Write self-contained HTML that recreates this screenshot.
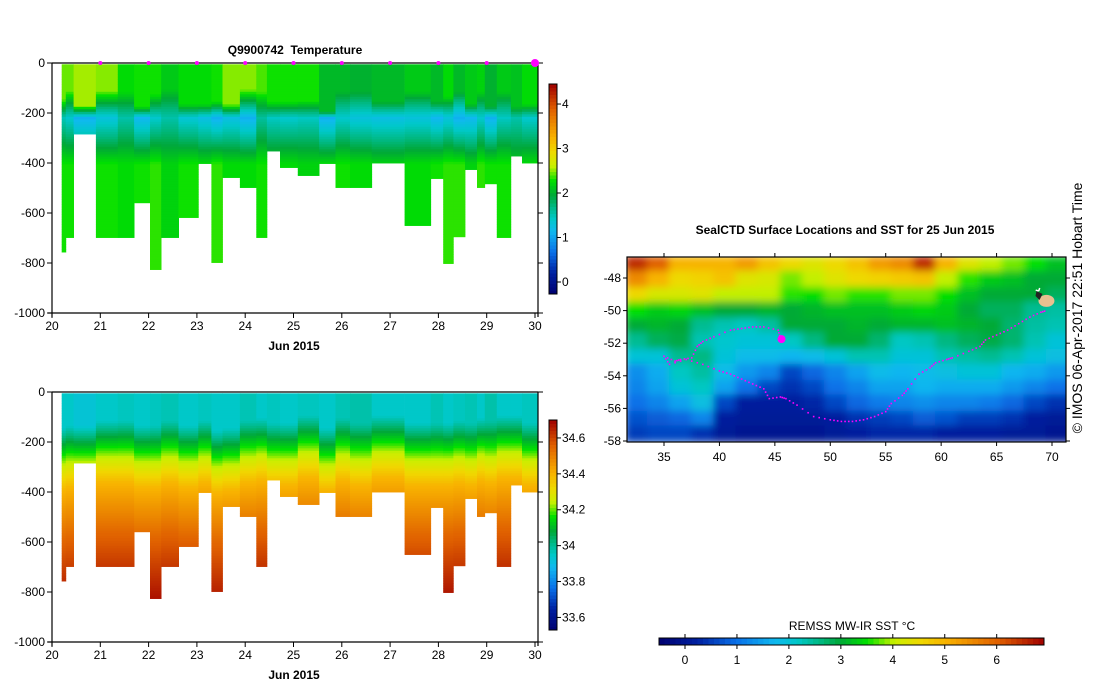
<!DOCTYPE html>
<html><head><meta charset="utf-8"><style>
body{margin:0;background:#fff;width:1099px;height:700px;overflow:hidden}
svg{display:block;font-family:"Liberation Sans",sans-serif}
</style></head><body>
<svg id="root" width="1099" height="700" xmlns="http://www.w3.org/2000/svg">
<g id="sec1"></g>
<g id="sec2"></g>
<g id="map"></g>
<text x="295" y="54" font-size="12" font-weight="bold" text-anchor="middle" xml:space="preserve">Q9900742  Temperature</text>
<text x="294" y="350" font-size="12" font-weight="bold" text-anchor="middle">Jun 2015</text>
<text x="294" y="679" font-size="12" font-weight="bold" text-anchor="middle">Jun 2015</text>
<text x="845" y="234" font-size="12" font-weight="bold" text-anchor="middle">SealCTD Surface Locations and SST for 25 Jun 2015</text>
<text x="852" y="630" font-size="12" text-anchor="middle">REMSS MW-IR SST °C</text>
<text transform="translate(1082,308) rotate(-90)" font-size="14" text-anchor="middle">© IMOS 06-Apr-2017 22:51 Hobart Time</text>
</svg>
<script>
// profile column edges (days after 20 Jun) and bottoms
const colEdges=[0.20,0.285,0.447,0.908,1.363,1.70,2.03,2.26,2.62,3.03,3.30,3.53,3.89,4.23,4.45,4.72,5.09,5.53,5.87,6.17,6.62,7.30,7.84,8.10,8.31,8.55,8.80,8.96,9.21,9.50,9.73,10.05];
const colDepth=[756,698,284,698,698,559,826,698,618,402,798,458,498,698,352,418,450,402,498,498,400,650,462,802,695,426,498,483,698,372,400];
const tSurf=[2.45,2.45,2.55,2.5,2.25,2.3,2.3,2.15,2.25,2.25,2.3,2.5,2.5,2.4,2.3,2.3,2.3,2.05,2.05,2.0,2.05,2.15,2.05,2.25,2.05,2.15,2.2,2.0,2.15,2.1,2.25];
const tMin=[1.5,1.4,1.1,1.3,1.55,1.15,1.4,1.55,1.35,1.25,1.1,1.25,1.1,1.6,1.45,1.4,1.45,1.1,1.4,1.3,1.25,1.3,1.15,1.3,1.1,1.15,1.4,1.1,1.45,1.55,1.4];
const tDeep=[2.3,2.3,2.2,2.3,2.25,2.3,2.35,2.2,2.3,2.25,2.35,2.25,2.25,2.3,2.2,2.25,2.2,2.25,2.3,2.25,2.2,2.25,2.3,2.35,2.35,2.2,2.35,2.3,2.3,2.15,2.25];
const mixDepth=[140,105,165,105,110,170,120,100,160,160,150,160,100,110,150,150,145,190,110,110,150,110,150,130,110,160,110,170,110,170,160];
const haloDepth=[290,280,280,260,260,280,280,260,280,260,300,290,260,250,270,270,240,290,250,270,240,270,270,270,260,270,250,260,240,240,270];
const surfSal=[33.95,33.95,33.93,33.95,33.96,33.95,33.96,33.97,33.95,33.96,33.95,33.95,33.97,33.95,33.96,33.95,33.96,33.95,33.97,33.98,33.95,33.95,33.97,33.95,33.96,33.97,33.95,33.98,33.95,33.95,33.96];
const dayTicks=[20,21,22,23,24,25,26,27,28,29,30];
const depthTicks=[0,-200,-400,-600,-800,-1000];
const tempCbTicks=[0,1,2,3,4];
const salCbTicks=[33.6,33.8,34,34.2,34.4,34.6];
// SST map grid: lon centres 32.5..74.5 step 2, lat rows -47.2..-57.6
const sstLon=[32.5,34.5,36.5,38.5,40.5,42.5,44.5,46.5,48.5,50.5,52.5,54.5,56.5,58.5,60.5,62.5,64.5,66.5,68.5,70.5,72.5,74.5];
const sstLat=[-47.2,-48.1,-49.1,-50.0,-51.0,-51.9,-52.9,-53.8,-54.8,-55.7,-56.7,-57.6];
const sstRows=[
[6.5,6,5,5,5,5.3,4.8,4.5,4.3,4.5,4.8,5.3,5.5,6.5,5,4.3,4,3.8,3.5,3.2,3.3,3.3],
[5.5,5,4.5,4.6,4.8,4.3,4.2,3.8,4,4.3,4.5,4.6,4.7,4.8,4,3.6,3.3,3.2,3,3,3,3],
[4.5,4.2,4.2,4.3,4,4,4,3.6,3.5,3.8,3.6,3.6,3.8,3.8,3.5,3.2,3,3,3,2.8,2.8,2.8],
[3.5,3.3,3.4,3.2,3,3,3.1,3,3.1,3.2,3.2,3.2,3.3,3.4,3.3,3,2.8,2.8,2.5,2.4,2.4,2.4],
[3,3.1,3,2.5,2.3,2.2,2.4,3,3,3,3.1,3,3.1,3.1,3.2,3.1,3,2.7,2.4,2.3,2.3,2.3],
[2.5,2.8,2.9,2.3,2.1,2,2,2.2,2.6,3,3,2.7,2.2,2.3,2.6,2.8,2.9,2.7,2.3,2,2,2],
[2,2,2.5,2.6,2,1.8,1.8,1.7,1.8,2,2.3,2.3,2,2,2.3,2.4,2.5,2.3,2,1.9,1.8,1.8],
[1.3,1.6,2.2,2.4,1.8,1.4,1.2,0.6,0.9,1.2,1.5,1.8,1.7,1.8,1.9,2,2,1.7,1.6,1.4,1.2,1.2],
[1.2,1.5,2,2.2,1.5,1,0.6,0.4,0.6,1,1.2,1.5,1.5,1.7,1.6,1.6,1.6,1.4,1.2,1,0.9,0.9],
[1,1.2,1.5,1.9,0.6,0.2,0.2,0.2,0.3,0.6,0.9,1.1,1.2,1.3,1.2,1.2,1.1,0.9,0.6,0.4,0.3,0.3],
[0.7,0.8,0.9,1.2,0.2,0.1,0.1,0.1,0.1,0.2,0.4,0.5,0.6,0.8,0.7,0.5,0.5,0.4,0.2,0.1,0.1,0.1],
[0.5,0.6,0.6,0.4,0.1,0,0,0,0,0.1,0.2,0.3,0.3,0.3,0.2,0.2,0.2,0.1,0.1,0,0,0]];
const trackLon=[45.5,45.3,44,43,42,41,39.5,38.5,38,37.5,36.5,36,35,35.5,37,38.5,40,41,42,43,44,44.5,45.5,46,47,48.5,50,51,52,53,54,55,55.5,56.5,57,58,59,59.5,60.5,61,62.5,63.5,64,65,66,67,68,69,69.5];
const trackLat=[-51.7,-51.2,-51.0,-51.0,-51.1,-51.2,-51.6,-51.9,-52.2,-52.9,-53.0,-53.1,-52.8,-53.3,-53.0,-53.3,-53.7,-53.9,-54.2,-54.5,-54.8,-55.4,-55.3,-55.4,-55.8,-56.5,-56.7,-56.8,-56.8,-56.7,-56.5,-56.2,-55.7,-55.2,-54.8,-53.9,-53.5,-53.2,-53.0,-52.9,-52.5,-52.2,-51.8,-51.5,-51.2,-50.8,-50.4,-50.1,-50.0];
const mapLonTicks=[35,40,45,50,55,60,65,70];
const mapLatTicks=[-48,-50,-52,-54,-56,-58];
const sstCbTicks=[0,1,2,3,4,5,6];

const NS='http://www.w3.org/2000/svg';
const stops=[[0,'#000070'],[0.1,'#0020a0'],[0.2,'#0a70e8'],[0.3,'#10b8f0'],[0.36,'#00c8c8'],[0.42,'#00b880'],[0.47,'#00a838'],[0.54,'#00e000'],[0.61,'#c8f000'],[0.68,'#f0d800'],[0.75,'#f8b000'],[0.88,'#e06000'],[1,'#a00000']];
function hx(c){return [1,3,5].map(i=>parseInt(c.substr(i,2),16));}
function cmap(t){t=Math.max(0,Math.min(1,t));for(let i=1;i<stops.length;i++){if(t<=stops[i][0]){const a=stops[i-1],b=stops[i];const f=(t-a[0])/(b[0]-a[0]);const A=hx(a[1]),B=hx(b[1]);return 'rgb('+A.map((v,k)=>Math.round(v+(B[k]-v)*f)).join(',')+')';}}return stops[stops.length-1][1];}
function mk(p,tag,at){const e=document.createElementNS(NS,tag);for(const k in at)e.setAttribute(k,at[k]);p.appendChild(e);return e;}
function txt(p,x,y,s,anchor,size){const e=mk(p,'text',{x:x,y:y,'font-size':size||12,'text-anchor':anchor||'middle'});e.textContent=s;return e;}

function tempAt(i,z){const m=mixDepth[i];if(z<m)return tSurf[i];if(z<215)return tSurf[i]+(tMin[i]-tSurf[i])*(z-m)/(215-m);if(z<400)return tMin[i]+(tDeep[i]-tMin[i])*(z-215)/185;return tDeep[i];}
function salAt(i,z){const h=haloDepth[i];const h1=h-150;if(z<h1)return surfSal[i];if(z<h)return surfSal[i]+(34.25-surfSal[i])*(z-h1)/150;if(z<h+100)return 34.25+0.15*(z-h)/100;if(z<h+300)return 34.4+0.15*(z-h-100)/200;return Math.min(34.68,34.55+0.13*(z-h-300)/250);}

function section(g,top,fn,tmin,tmax,cbTicks,cbTop,cbBot,cbMin,cbMax,fmt,markers){
  const L=52,R=538,B=top+250;const X0=52,X1=535;
  const xs=d=>X0+(d-20)*(X1-X0)/10, ys=z=>top+z*0.25;
  for(let i=0;i<colDepth.length;i++){
    const x0=xs(20+colEdges[i]),x1=xs(20+colEdges[i+1]);
    for(let z=5;z<colDepth[i];z+=10){
      const r=mk(g,'rect',{x:x0.toFixed(1),y:ys(z).toFixed(1),width:(x1-x0+0.4).toFixed(1),height:Math.min(10,colDepth[i]-z)*0.25+0.4,fill:cmap((fn(i,z)-tmin)/(tmax-tmin))});
      
      
    }
  }
  mk(g,'path',{d:`M${L},${top}H${R}M${L},${top}V${B+4}M${L-4},${B}H${R}M${R},${top}V${B+4}`,stroke:'#000','stroke-width':1.2,fill:'none'});
  dayTicks.forEach(d=>{mk(g,'line',{x1:xs(d),x2:xs(d),y1:B,y2:B+5,stroke:'#000'});const t=txt(g,xs(d),B+17,String(d));});
  depthTicks.forEach(v=>{const y=ys(-v);mk(g,'line',{x1:L-5,x2:L,y1:y,y2:y,stroke:'#000'});mk(g,'line',{x1:R,x2:R+5,y1:y,y2:y,stroke:'#000'});const t=txt(g,L-7,y+4,String(v),'end');});
  if(markers){for(let d=21;d<=29;d++){const c=mk(g,'circle',{cx:xs(d),cy:top,r:2,fill:'#ff00ff'});}const c=mk(g,'circle',{cx:xs(30),cy:top,r:4,fill:'#ff00ff'});}
  const cb=mk(g,'g',{});
  const n=60;for(let k=0;k<n;k++){const y=cbBot-(k+1)*(cbBot-cbTop)/n;mk(cb,'rect',{x:549,y:y.toFixed(1),width:8,height:((cbBot-cbTop)/n+0.5).toFixed(1),fill:cmap((k+0.5)/n)});}
  mk(cb,'rect',{x:549,y:cbTop,width:8,height:cbBot-cbTop,fill:'none',stroke:'#000'});
  cbTicks.forEach(v=>{const y=cbBot-(v-cbMin)/(cbMax-cbMin)*(cbBot-cbTop);mk(cb,'line',{x1:557,x2:561,y1:y,y2:y,stroke:'#000'});const t=txt(cb,562,y+4,fmt(v),'start');});
}
section(document.getElementById('sec1'),63,tempAt,-0.27,4.45,tempCbTicks,84,294,-0.27,4.45,v=>String(v),true);
section(document.getElementById('sec2'),392,salAt,33.53,34.7,salCbTicks,420,630,33.53,34.7,v=>String(+v.toFixed(1)),false);

(function(){
  const g=document.getElementById('map');
  const ML=627,MR=1066,MT=257,MB=442;
  const xs=lon=>664+(lon-35)*11.086, ys=lat=>278+(-48-lat)*16.3;
  const defs=mk(g,'defs',{});const f=mk(defs,'filter',{id:'bl',x:'-5%',y:'-5%',width:'110%',height:'110%'});mk(f,'feGaussianBlur',{stdDeviation:4});
  const cp=mk(defs,'clipPath',{id:'mc'});mk(cp,'rect',{x:ML,y:MT,width:MR-ML,height:MB-MT});
  const cg=mk(g,'g',{'clip-path':'url(#mc)'});
  const hg=mk(cg,'g',{filter:'url(#bl)'});
  for(let r=0;r<sstLat.length;r++)for(let c=0;c<sstLon.length;c++){
    const x=xs(sstLon[c]-1.05),y=ys(sstLat[r]+0.55);
    const e=mk(hg,'rect',{x:x.toFixed(1),y:y.toFixed(1),width:24,height:17,fill:cmap((sstRows[r][c]+0.5)/7.4)});
    
    
  }
  for(let k=0;k<trackLon.length-1;k++)for(let s=0;s<3;s++){const lo=trackLon[k]+(trackLon[k+1]-trackLon[k])*s/3,la=trackLat[k]+(trackLat[k+1]-trackLat[k])*s/3;const d=mk(cg,'rect',{x:xs(lo)-0.8,y:ys(la)-0.8,width:1.6,height:1.6,fill:'#ff00ff'});}
  const blob=mk(cg,'circle',{cx:xs(45.6),cy:ys(-51.75),r:4,fill:'#ff00ff'});
  const seal=mk(cg,'g',{});
  mk(seal,'ellipse',{cx:xs(69.5),cy:ys(-49.4),rx:8,ry:6,fill:'#e8c090'});
  mk(seal,'path',{d:`M${xs(68.6)},${ys(-48.8)}l6,3l-3,6l-4,-4z`,fill:'#222'});
  mk(seal,'path',{d:`M${xs(68.8)},${ys(-48.8)}l-3,-1m3,1l1,-3`,stroke:'#fff','stroke-width':1.5});
  mk(cg,'path',{d:`M${xs(73.3)},${ys(-53)}l4,-2l1,3z`,fill:'#333'});
  mk(g,'rect',{x:ML,y:MT,width:MR-ML,height:MB-MT,fill:'none',stroke:'#000','stroke-width':1.2});
  mapLonTicks.forEach(v=>{mk(g,'line',{x1:xs(v),x2:xs(v),y1:MT-4,y2:MT,stroke:'#000'});mk(g,'line',{x1:xs(v),x2:xs(v),y1:MB,y2:MB+4,stroke:'#000'});const t=txt(g,xs(v),MB+19,String(v));});
  mapLatTicks.forEach(v=>{const y=ys(v);mk(g,'line',{x1:ML-4,x2:ML,y1:y,y2:y,stroke:'#000'});mk(g,'line',{x1:MR,x2:MR+4,y1:y,y2:y,stroke:'#000'});const t=txt(g,ML-6,y+4,String(v),'end');});
  const cb=mk(g,'g',{});
  const x0=659,x1=1044,n=70;for(let k=0;k<n;k++){mk(cb,'rect',{x:(x0+k*(x1-x0)/n).toFixed(1),y:638,width:((x1-x0)/n+0.5).toFixed(1),height:7,fill:cmap((k+0.5)/n)});}
  mk(cb,'rect',{x:x0,y:638,width:x1-x0,height:7,fill:'none',stroke:'#000'});
  const cx=v=>685+v*51.95;
  sstCbTicks.forEach(v=>{mk(cb,'line',{x1:cx(v),x2:cx(v),y1:634,y2:638,stroke:'#000'});mk(cb,'line',{x1:cx(v),x2:cx(v),y1:645,y2:649,stroke:'#000'});const t=txt(cb,cx(v),664,String(v));});
})();
</script>
</body></html>
